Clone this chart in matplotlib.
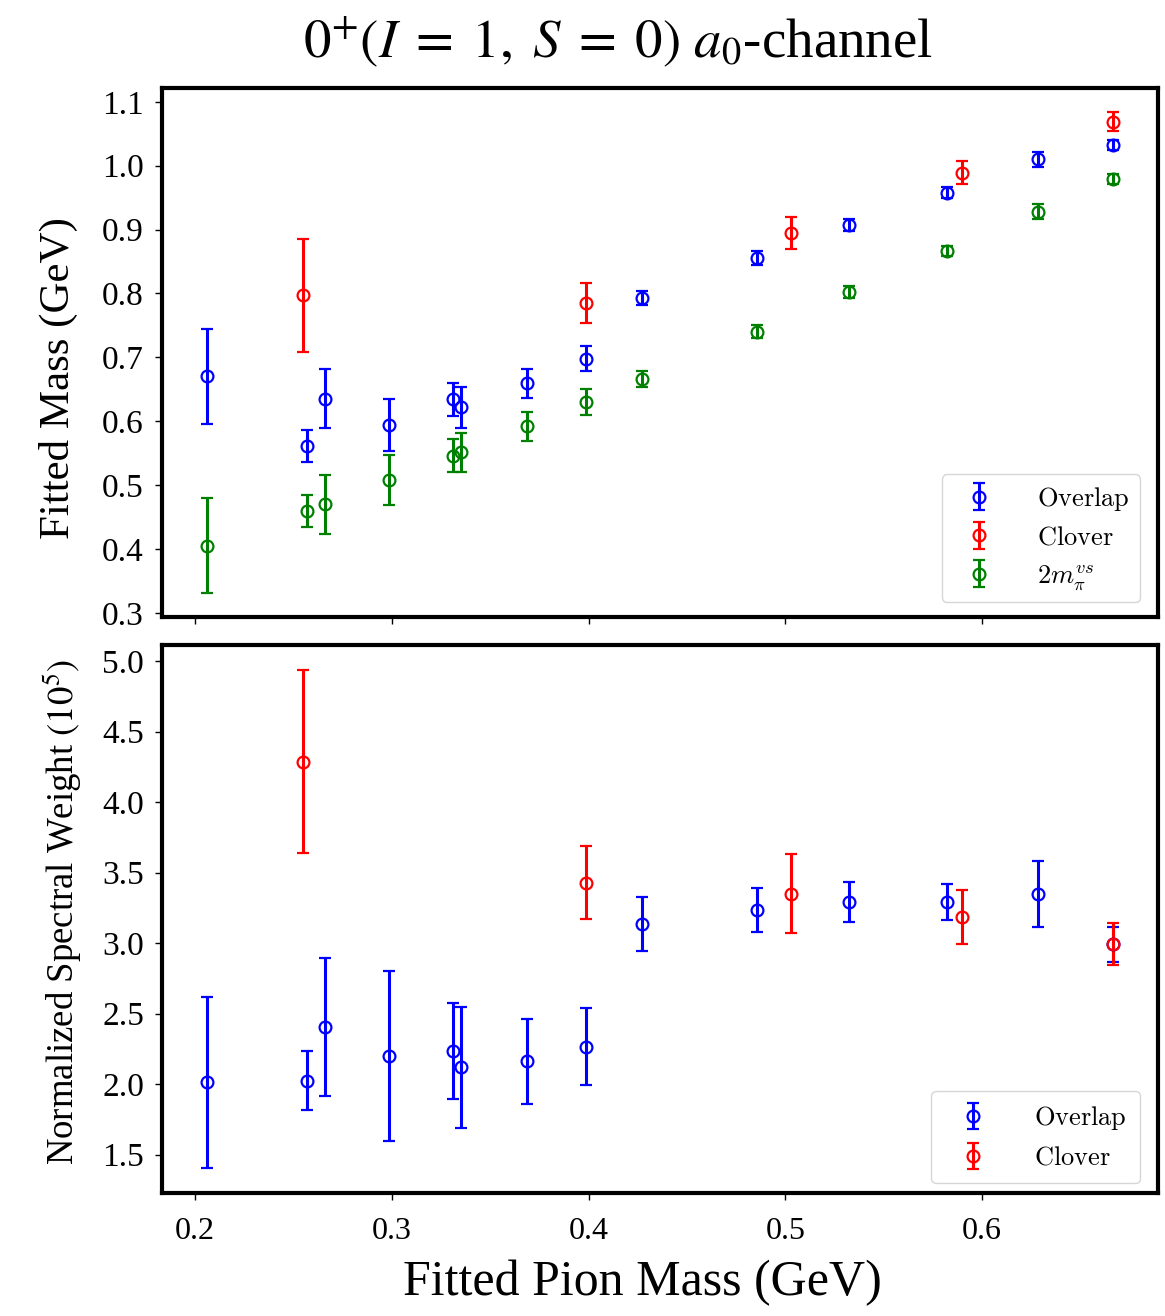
import matplotlib
matplotlib.use("Agg")
import matplotlib.pyplot as plt
from matplotlib.font_manager import FontProperties

plt.rcParams['font.family'] = ['Liberation Serif', 'DejaVu Serif']
plt.rcParams['mathtext.fontset'] = 'stix'

# ---- data ----
x_overlap = [0.2063, 0.2568, 0.2660, 0.2988, 0.3309, 0.3353, 0.3687, 0.3987,
             0.4270, 0.4858, 0.5324, 0.5820, 0.6282, 0.6663]
x_clover = [0.2549, 0.3987, 0.5030, 0.5898, 0.6663]

mass_overlap = [0.670, 0.561, 0.635, 0.594, 0.634, 0.622, 0.659, 0.698,
                0.793, 0.855, 0.907, 0.958, 1.010, 1.033]
mass_overlap_err = [0.074, 0.025, 0.046, 0.040, 0.026, 0.032, 0.023, 0.020,
                    0.011, 0.011, 0.009, 0.008, 0.012, 0.008]
mass_clover = [0.797, 0.785, 0.895, 0.989, 1.069]
mass_clover_err = [0.088, 0.032, 0.025, 0.018, 0.015]
mass_2mpi = [0.405, 0.459, 0.470, 0.508, 0.546, 0.551, 0.592, 0.630,
             0.666, 0.740, 0.802, 0.867, 0.928, 0.979]
mass_2mpi_err = [0.074, 0.025, 0.046, 0.039, 0.026, 0.031, 0.023, 0.020,
                 0.012, 0.010, 0.009, 0.008, 0.012, 0.008]

sw_overlap = [2.011, 2.023, 2.407, 2.199, 2.236, 2.119, 2.161, 2.266,
              3.135, 3.232, 3.292, 3.290, 3.348, 2.992]
sw_overlap_err = [0.607, 0.21, 0.49, 0.60, 0.34, 0.43, 0.30, 0.27,
                  0.19, 0.155, 0.14, 0.127, 0.236, 0.124]
sw_clover = [4.287, 3.429, 3.350, 3.186, 2.992]
sw_clover_err = [0.65, 0.26, 0.28, 0.19, 0.15]

xticks = [0.2, 0.3, 0.4, 0.5, 0.6]
yticks_top = [0.3, 0.4, 0.5, 0.6, 0.7, 0.8, 0.9, 1.0, 1.1]
yticks_bot = [1.5, 2.0, 2.5, 3.0, 3.5, 4.0, 4.5, 5.0]

W, H = 1165, 1316
fig = plt.figure(figsize=(W / 100, H / 100), dpi=100)
ax1 = fig.add_axes([162 / W, 1 - 617 / H, (1158 - 162) / W, (617 - 88) / H])
ax2 = fig.add_axes([162 / W, 1 - 1193 / H, (1158 - 162) / W, (1193 - 645) / H], sharex=ax1)

eb = dict(fmt='o', mfc='none', ms=8.5, mew=1.6, elinewidth=2.2, capsize=4.5, capthick=2.2)

ax1.errorbar(x_overlap, mass_overlap, yerr=mass_overlap_err, color='blue',
             label=r'$\mathrm{Overlap}$', **eb)
ax1.errorbar(x_clover, mass_clover, yerr=mass_clover_err, color='red',
             label=r'$\mathrm{Clover}$', **eb)
ax1.errorbar(x_overlap, mass_2mpi, yerr=mass_2mpi_err, color='green',
             label=r'$2m_\pi^{vs}$', **eb)

ax2.errorbar(x_overlap, sw_overlap, yerr=sw_overlap_err, color='blue',
             label=r'$\mathrm{Overlap}$', **eb)
ax2.errorbar(x_clover, sw_clover, yerr=sw_clover_err, color='red',
             label=r'$\mathrm{Clover}$', **eb)

for ax in (ax1, ax2):
    for s in ax.spines.values():
        s.set_linewidth(3)
        s.set_color('black')
    ax.tick_params(axis='both', labelsize=24, length=5, width=1, direction='out')
    ax.tick_params(axis='y', pad=8)

ax1.set_yticks(yticks_top)
ax1.set_yticklabels([f'{v:.1f}' for v in yticks_top])
ax2.set_yticks(yticks_bot)
ax2.set_yticklabels([f'{v:.1f}' for v in yticks_bot])
ax2.set_xticks(xticks)
ax2.set_xticklabels([f'{v:.1f}' for v in xticks])
ax2.tick_params(axis='x', labelsize=23, pad=12)
ax1.tick_params(axis='x', labelbottom=False)

legprop = FontProperties(family='Liberation Serif', size=19, math_fontfamily='cm')
ax1.legend(loc='lower right', bbox_to_anchor=(0.982, 0.028), prop=legprop,
           handlelength=2.0, handletextpad=1.2, labelspacing=0.5, borderpad=0.4,
           fancybox=True, edgecolor='0.8', borderaxespad=0.0)
ax2.legend(loc='lower right', bbox_to_anchor=(0.982, 0.018), prop=legprop,
           handlelength=2.2, handletextpad=1.2, labelspacing=0.55, borderpad=0.5,
           fancybox=True, edgecolor='0.8', borderaxespad=0.0)

fig.text(58 / W, 1 - 378 / H, 'Fitted Mass (GeV)', rotation=90, ha='center',
         va='center', fontsize=31)
fig.text(63 / W, 1 - 912 / H, r'Normalized Spectral Weight $(10^5)$', rotation=90,
         ha='center', va='center', fontsize=26.5)
fig.text(642 / W, 1 - 1283 / H, 'Fitted Pion Mass (GeV)', ha='center', va='center',
         fontsize=36)
fig.text(618 / W, 1 - 42 / H, r'$0^{+}(I\;=\;1,\;S\;=\;0)\ a_0$-channel', ha='center',
         va='center', fontsize=39.5)

fig.savefig('out.png', dpi=100)
